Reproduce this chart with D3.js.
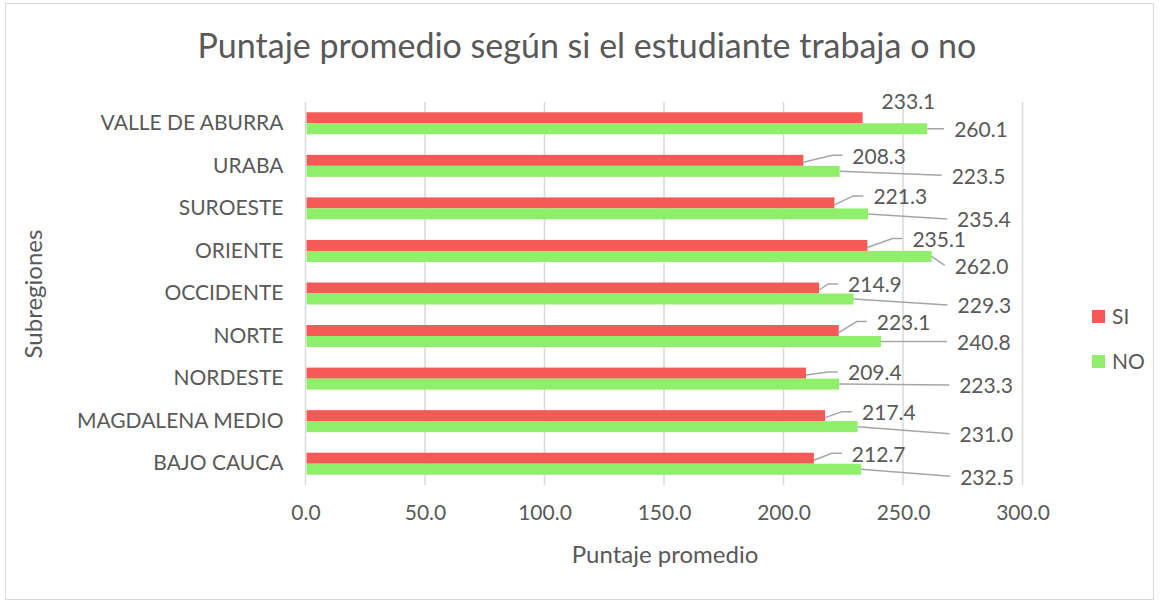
<!DOCTYPE html>
<meta charset="utf-8">
<script src="https://d3js.org/d3.v7.min.js"></script>
<style>
  body { margin: 0; background: #fff; }
  text { font-family: Lato, "Open Sans", sans-serif; fill: #595959; }
</style>
<div id="my_dataviz"></div>
<script>
// categories, top to bottom as in the chart
var subregiones = ["VALLE DE ABURRA", "URABA", "SUROESTE", "ORIENTE", "OCCIDENTE",
                   "NORTE", "NORDESTE", "MAGDALENA MEDIO", "BAJO CAUCA"];
var series = ["SI", "NO"];
var valoresSI = [233.1, 208.3, 221.3, 235.1, 214.9, 223.1, 209.4, 217.4, 212.7];
var valoresNO = [260.1, 223.5, 235.4, 262.0, 229.3, 240.8, 223.3, 231.0, 232.5];
var xTicks = [0, 50, 100, 150, 200, 250, 300];

// hand-placed label nudges (px, relative to bar end / bar centre), as in the original
var nudgeSI = [[19, -16], [49, -4], [39, -6], [45, -6], [29, -3], [38, -8], [42, 0], [37, -3], [38, -4]];
var nudgeNO = [[27, 1], [112, 5], [89, 6], [23, 10], [104, 7], [76, 1], [120, 2], [102, 8], [99, 8]];

var W = 1162, H = 604;
var margin = {top: 102, right: 139, bottom: 119, left: 305.5};
var colors = {SI: "#f55a56", NO: "#8fee6a"};

var svg = d3.select("#my_dataviz").append("svg")
    .attr("width", W).attr("height", H);

// chart frame
svg.append("rect")
    .attr("x", 5.5).attr("y", 3.5).attr("width", 1148).attr("height", 596)
    .attr("fill", "#fff").attr("stroke", "#d9d9d9");

var x = d3.scaleLinear().domain([0, 300]).range([margin.left, W - margin.right - 0.5]);
var y = d3.scaleBand().domain(subregiones).range([margin.top, H - margin.bottom]);
var barH = 11;
var ySub = d3.scaleBand().domain(series).range([0, barH * 2]);
function barTop(i, s) { return y(subregiones[i]) + (y.bandwidth() - barH * 2) / 2 + ySub(s); }

// gridlines
svg.append("g").selectAll("line").data(xTicks).enter().append("line")
    .attr("x1", function(d) { return x(d); }).attr("x2", function(d) { return x(d); })
    .attr("y1", margin.top).attr("y2", H - margin.bottom)
    .attr("stroke", "#d9d9d9").attr("stroke-width", 1.5);

// x axis labels
var xAxis = svg.append("g")
    .attr("transform", "translate(0," + (H - margin.bottom) + ")")
    .call(d3.axisBottom(x).tickValues(xTicks).tickFormat(d3.format(".1f")).tickSize(0).tickPadding(20));
xAxis.select(".domain").remove();
xAxis.selectAll("text").attr("font-size", 21).attr("font-family", "Lato").attr("fill", "#595959");

// y axis labels
var yAxis = svg.append("g")
    .attr("transform", "translate(" + (margin.left - 22) + ",0)")
    .call(d3.axisLeft(y).tickSize(0).tickPadding(0));
yAxis.select(".domain").remove();
yAxis.selectAll("text").attr("font-size", 21).attr("font-family", "Lato").attr("fill", "#595959");

// bars
var data = [];
subregiones.forEach(function(c, i) {
  data.push({i: i, s: "SI", v: valoresSI[i], n: nudgeSI[i]});
  data.push({i: i, s: "NO", v: valoresNO[i], n: nudgeNO[i]});
});

svg.append("g").selectAll("rect").data(data).enter().append("rect")
    .attr("x", x(0) + 1)
    .attr("y", function(d) { return barTop(d.i, d.s); })
    .attr("width", function(d) { return x(d.v) - x(0) - 1; })
    .attr("height", barH)
    .attr("fill", function(d) { return colors[d.s]; });

// leader lines + labels
var lab = svg.append("g");
data.forEach(function(d) {
  var x0 = x(d.v), y0 = barTop(d.i, d.s) + barH / 2;
  var lx = x0 + d.n[0], ly = y0 + d.n[1];
  if (d.n[0] > 22) {
    var pts = d.s === "SI"
      ? [[x0, y0 + 2], [lx - 20, ly - 1], [lx - 10, ly - 1]]
      : [[x0, y0], [lx - 10, ly - 1]];
    lab.append("path")
      .attr("d", d3.line()(pts))
      .attr("fill", "none").attr("stroke", "#a6a6a6").attr("stroke-width", 1.5);
  }
  lab.append("text")
    .attr("x", lx).attr("y", ly)
    .attr("dy", "0.35em")
    .attr("font-size", 21)
    .attr("fill", "#404040")
    .text(d3.format(".1f")(d.v));
});

// title
svg.append("text")
    .attr("x", 587).attr("y", 58)
    .attr("text-anchor", "middle")
    .attr("font-size", 34)
    .text("Puntaje promedio según si el estudiante trabaja o no");

// axis titles
svg.append("text")
    .attr("x", 665).attr("y", 563)
    .attr("text-anchor", "middle")
    .attr("font-size", 24)
    .text("Puntaje promedio");

svg.append("text")
    .attr("transform", "translate(42,294) rotate(-90)")
    .attr("text-anchor", "middle")
    .attr("font-size", 24)
    .text("Subregiones");

// legend
var leg = svg.append("g").selectAll("g").data(series).enter().append("g")
    .attr("transform", function(d, i) { return "translate(1092," + (310 + i * 45) + ")"; });
leg.append("rect").attr("width", 13).attr("height", 13)
    .attr("fill", function(d) { return colors[d]; });
leg.append("text").attr("x", 20).attr("y", 7).attr("dy", "0.35em")
    .attr("font-size", 21).text(function(d) { return d; });
</script>
